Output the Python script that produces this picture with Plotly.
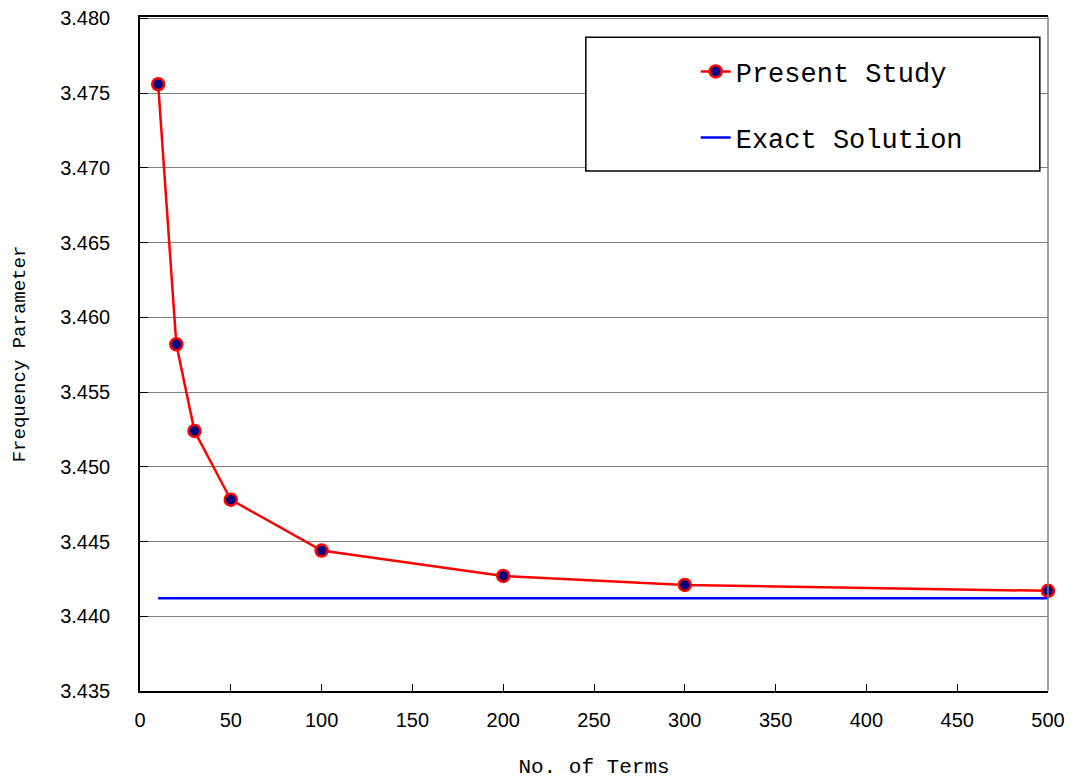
import plotly.graph_objects as go

terms = [10, 20, 30, 50, 100, 200, 300, 500]
present = [3.4756, 3.4582, 3.4524, 3.4478, 3.4444, 3.4427, 3.4421, 3.4417]
exact_x = [10, 500]
exact_y = [3.4412, 3.4412]

x_ticks = [0, 50, 100, 150, 200, 250, 300, 350, 400, 450, 500]
y_ticks = [3.435, 3.440, 3.445, 3.450, 3.455, 3.460, 3.465, 3.470, 3.475, 3.480]
y_ticktext = ["3.435", "3.440", "3.445", "3.450", "3.455", "3.460", "3.465", "3.470", "3.475", "3.480"]

fig = go.Figure()
fig.add_trace(go.Scatter(
    x=terms, y=present, mode="lines+markers", name="Present Study",
    legendgroup="a",
    line=dict(color="#FF0000", width=2.5),
    marker=dict(size=12, color="#000080", line=dict(color="#FF0000", width=2.5)),
    cliponaxis=False,
))
fig.add_trace(go.Scatter(
    x=exact_x, y=exact_y, mode="lines", name="Exact Solution",
    legendgroup="b",
    line=dict(color="#0000FF", width=2.5),
    cliponaxis=False,
))

# page body has an 8px margin, so the figure is offset by 8px
W, H = 1067, 772
L, T = 132, 9
PW, PH = 908, 674
R, B = W - L - PW, H - T - PH
fig.update_layout(
    width=W, height=H,
    margin=dict(l=L, r=R, t=T, b=B, autoexpand=False),
    paper_bgcolor="white", plot_bgcolor="white",
    font=dict(family="Liberation Sans, Arial", color="black"),
    showlegend=True,
    legend=dict(
        x=0.612, y=0.955, xanchor="left", yanchor="top",
        bgcolor="rgba(0,0,0,0)", borderwidth=0,
        font=dict(family="Liberation Mono, DejaVu Sans Mono", size=27, color="black"),
        traceorder="grouped", tracegroupgap=28,
    ),
    xaxis=dict(
        range=[0, 500], tickvals=x_ticks, showgrid=False, automargin=False,
        showline=True, linecolor="black", linewidth=1.5, mirror=True,
        ticks="inside", ticklen=7, tickcolor="black", ticklabelstandoff=10,
        ticklabeloverflow="allow",
        tickfont=dict(size=20, family="Liberation Sans, Arial"),
        title=dict(text="No. of Terms", font=dict(family="Liberation Mono, DejaVu Sans Mono", size=21), standoff=29),
        zeroline=False,
    ),
    yaxis=dict(
        range=[3.435, 3.4801], tickvals=y_ticks, ticktext=y_ticktext, automargin=False,
        showgrid=True, gridcolor="#808080", gridwidth=1,
        showline=True, linecolor="black", linewidth=1.5,
        ticks="inside", ticklen=8, tickcolor="black", ticklabelstandoff=24,
        ticklabeloverflow="allow",
        tickfont=dict(size=20, family="Liberation Sans, Arial"),
        title=dict(text="Frequency Parameter", font=dict(family="Liberation Mono, DejaVu Sans Mono", size=19), standoff=30),
        zeroline=False,
    ),
    shapes=[
        dict(type="rect", xref="paper", yref="paper", x0=0.491, x1=0.991, y0=0.7715, y1=0.970,
             line=dict(color="black", width=1.5), fillcolor="white", layer="above"),
        dict(type="line", xref="paper", yref="paper", x0=1, x1=1, y0=0, y1=1,
             line=dict(color="#808080", width=1.5)),
    ],
)
fig.write_html("out.html")
